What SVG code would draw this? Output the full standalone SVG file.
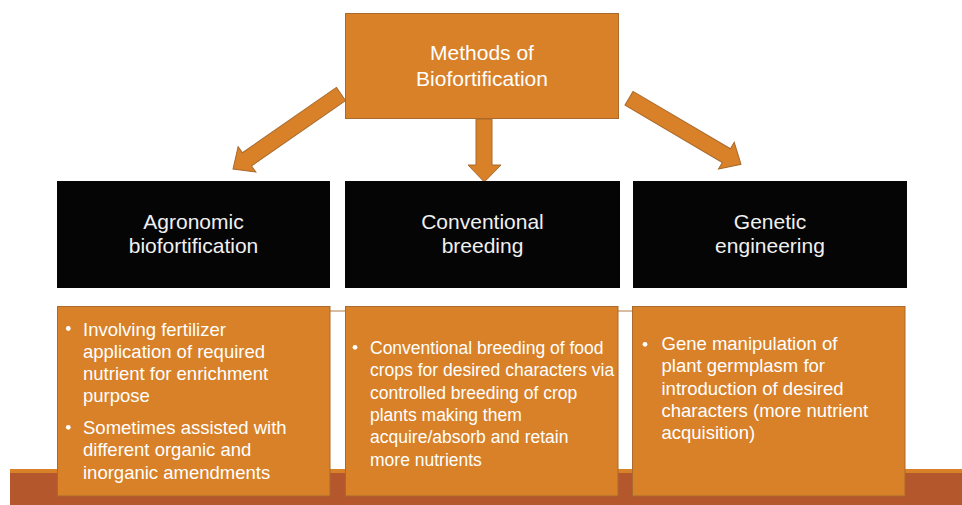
<svg xmlns="http://www.w3.org/2000/svg" width="962" height="505" viewBox="0 0 962 505">
  <style>
    .orange { fill: #D88128; stroke: #A96A2C; stroke-width: 1; }
    .dark { fill: #050505; }
    .title { font-family: "Liberation Sans", Arial, Helvetica, sans-serif; font-size: 21px; fill: #FFFFFF; text-anchor: middle; }
    .head { font-family: "Liberation Sans", Arial, Helvetica, sans-serif; font-size: 21px; fill: #F0F0F0; text-anchor: middle; }
    .body { font-family: "Liberation Sans", Arial, Helvetica, sans-serif; font-size: 18.5px; fill: #FFFFFF; }
    .body-sm { font-size: 17.5px; }
    .bullet { fill: #FFFFFF; }
  </style>

  <!-- footer band -->
  <g id="footer">
    <rect x="10" y="469" width="952" height="36" fill="#B5572C"/>
    <rect x="10" y="469" width="952" height="4" fill="#D88128"/>
  </g>

  <!-- thin rule behind the detail boxes -->
  <line x1="330" y1="311" x2="632" y2="311" stroke="#B07A4A" stroke-width="1"/>

  <!-- root node -->
  <g id="methods">
    <rect class="orange" x="345.5" y="13.5" width="273" height="105"/>
    <text class="title" x="482" y="60">Methods of</text>
    <text class="title" x="482" y="86">Biofortification</text>
  </g>

  <!-- connectors -->
  <g id="connectors">
    <polygon class="orange" transform="translate(341,94) rotate(145.2)"
      points="0,-8 114.5,-8 114.5,-15.5 131.5,0 114.5,15.5 114.5,8 0,8"/>
    <polygon class="orange"
      points="476,119 492,119 492,165 501,165 484.3,182 468,165 476,165"/>
    <polygon class="orange" transform="translate(629,98.3) rotate(30.5)"
      points="0,-8 113,-8 113,-15.5 130,0 113,15.5 113,8 0,8"/>
  </g>

  <!-- method headers -->
  <g id="agronomic">
    <rect class="dark" x="57" y="181" width="273" height="107"/>
    <text class="head" x="193.5" y="228.5">Agronomic</text>
    <text class="head" x="193.5" y="253">biofortification</text>
  </g>
  <g id="conventional">
    <rect class="dark" x="345" y="181" width="275" height="107"/>
    <text class="head" x="482.5" y="228.5">Conventional</text>
    <text class="head" x="482.5" y="253">breeding</text>
  </g>
  <g id="genetic">
    <rect class="dark" x="633" y="181" width="274" height="107"/>
    <text class="head" x="770" y="228.5">Genetic</text>
    <text class="head" x="770" y="253">engineering</text>
  </g>

  <!-- method details -->
  <g id="agronomic-detail">
    <rect class="orange" x="57.5" y="306.5" width="272.5" height="189.5"/>
    <circle class="bullet" cx="68.3" cy="328.5" r="2.4"/>
    <text class="body" x="83" y="335.5">Involving fertilizer</text>
    <text class="body" x="83" y="357.5">application of required</text>
    <text class="body" x="83" y="379.5">nutrient for enrichment</text>
    <text class="body" x="83" y="401.5">purpose</text>
    <circle class="bullet" cx="68.3" cy="427.3" r="2.4"/>
    <text class="body" x="83" y="434">Sometimes assisted with</text>
    <text class="body" x="83" y="456.3">different organic and</text>
    <text class="body" x="83" y="478.5">inorganic amendments</text>
  </g>
  <g id="conventional-detail">
    <rect class="orange" x="345.5" y="306.5" width="272.5" height="189.5"/>
    <circle class="bullet" cx="355" cy="347.3" r="2.4"/>
    <text class="body body-sm" x="370" y="354">Conventional breeding of food</text>
    <text class="body body-sm" x="370" y="376.3">crops for desired characters via</text>
    <text class="body body-sm" x="370" y="398.6">controlled breeding of crop</text>
    <text class="body body-sm" x="370" y="420.9">plants making them</text>
    <text class="body body-sm" x="370" y="443.2">acquire/absorb and retain</text>
    <text class="body body-sm" x="370" y="465.5">more nutrients</text>
  </g>
  <g id="genetic-detail">
    <rect class="orange" x="632.5" y="306.5" width="272.5" height="189.5"/>
    <circle class="bullet" cx="645" cy="344.3" r="2.4"/>
    <text class="body" x="661.5" y="350">Gene manipulation of</text>
    <text class="body" x="661.5" y="372.3">plant germplasm for</text>
    <text class="body" x="661.5" y="394.6">introduction of desired</text>
    <text class="body" x="661.5" y="416.9">characters (more nutrient</text>
    <text class="body" x="661.5" y="439.2">acquisition)</text>
  </g>
</svg>
